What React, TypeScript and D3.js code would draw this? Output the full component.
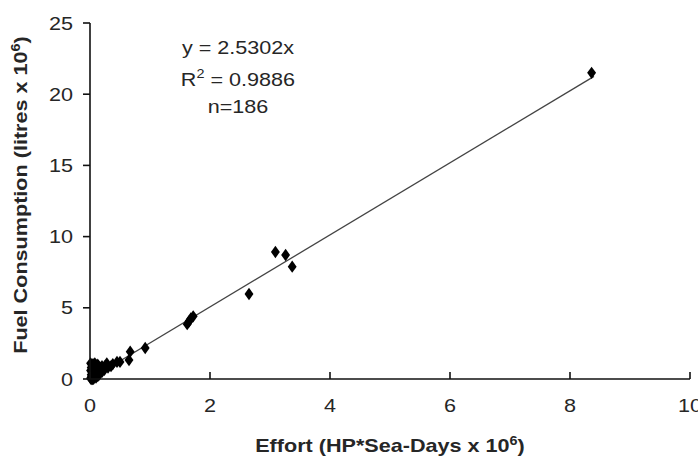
import React from "react";
import * as d3 from "d3";

const clusterX = [0.01,0.02,0.03,0.02,0.04,0.05,0.01,0.02,0.03,0.01,0.05,0.06,0.08,0.1,0.12,0.15,0.18,0.2,0.22,0.25,0.28,0.12,0.08,0.15,0.2,0.3,0.06,0.1,0.04,0.07,0.09,0.13,0.16,0.03,0.05,0.11,0.14,0.02,0.19,0.24];
const clusterY = [0.05,0.1,0.2,0.3,0.15,0.4,0.6,0.8,1.0,1.1,0.9,0.7,0.5,0.3,0.5,0.6,0.8,0.9,0.7,0.9,1.1,1.0,1.1,0.3,0.5,0.8,0.02,0.1,0.0,0.25,0.65,0.2,0.4,0.5,1.05,0.75,0.95,0.0,0.6,0.65];
const midX = [0.35,0.38,0.45,0.5,0.65,0.67,0.92,1.62,1.65,1.68,1.72,2.65,3.09,3.26,3.37,8.36];
const midY = [0.9,1.05,1.2,1.2,1.33,1.92,2.18,3.85,4.05,4.25,4.4,5.97,8.92,8.71,7.89,21.5];
const slope = 2.5302;
const xTicks = [0, 2, 4, 6, 8, 10];
const yTicks = [0, 5, 10, 15, 20, 25];

export default function App() {
  const W = 698, H = 459;
  const x = d3.scaleLinear().domain([0, 10]).range([90, 690]);
  const y = d3.scaleLinear().domain([0, 25]).range([379, 23]);
  const pts = clusterX.map((v, i) => [v, clusterY[i]]).concat(midX.map((v, i) => [v, midY[i]]));
  const diamond = d3.symbol().type(d3.symbolDiamond).size(44)();
  const font = "'Liberation Sans', Arial, sans-serif";
  const tc = "#262626";
  const sx = 1.2;
  return (
    <svg width={W} height={H} style={{ position: "fixed", left: 0, top: 0, background: "#fff" }} fontFamily={font}>
      <rect width={W} height={H} fill="#fff" />
      <line x1={x(0)} y1={y(0)} x2={x(8.4)} y2={y(slope * 8.4)} stroke="#444" strokeWidth={1.3} />
      {pts.map((p, i) => (
        <path key={i} d={diamond} transform={`translate(${x(p[0])},${y(p[1])}) scale(1.25,1)`} fill="#000" />
      ))}
      <line x1={x(0)} y1={y(0)} x2={x(0)} y2={y(25)} stroke="#111" strokeWidth={1.6} />
      <line x1={x(0)} y1={y(0)} x2={x(10)} y2={y(0)} stroke="#111" strokeWidth={1.6} />
      {yTicks.map((t) => (
        <g key={t}>
          <line x1={x(0) - 7} x2={x(0)} y1={y(t)} y2={y(t)} stroke="#111" strokeWidth={1.6} />
          <text transform={`translate(73,${y(t) + 6.5}) scale(${sx},1)`} textAnchor="end" fontSize={18} fill={tc}>{t}</text>
        </g>
      ))}
      {xTicks.map((t) => (
        <g key={t}>
          <line x1={x(t)} x2={x(t)} y1={y(0)} y2={y(0) - 7} stroke="#111" strokeWidth={1.6} />
          <text transform={`translate(${x(t)},${y(0) + 33}) scale(${sx},1)`} textAnchor="middle" fontSize={18} fill={tc}>{t}</text>
        </g>
      ))}
      <text transform={`translate(390,452) scale(${sx},1)`} textAnchor="middle" fontSize={18} fontWeight="bold" fill={tc}>
        Effort (HP*Sea-Days x 10<tspan dy={-7} fontSize={12}>6</tspan><tspan dy={7}>)</tspan>
      </text>
      <text transform={`translate(27,195) rotate(-90) scale(${sx},1)`} textAnchor="middle" fontSize={18} fontWeight="bold" fill={tc}>
        Fuel Consumption (litres x 10<tspan dy={-7} fontSize={12}>6</tspan><tspan dy={7}>)</tspan>
      </text>
      <text transform={`translate(238,54) scale(${sx},1)`} textAnchor="middle" fontSize={18} fill={tc}>y = 2.5302x</text>
      <text transform={`translate(238,86) scale(${sx},1)`} textAnchor="middle" fontSize={18} fill={tc}>
        R<tspan dy={-8} fontSize={12}>2</tspan><tspan dy={8}> = 0.9886</tspan>
      </text>
      <text transform={`translate(238,113) scale(${sx},1)`} textAnchor="middle" fontSize={18} fill={tc}>n=186</text>
    </svg>
  );
}
